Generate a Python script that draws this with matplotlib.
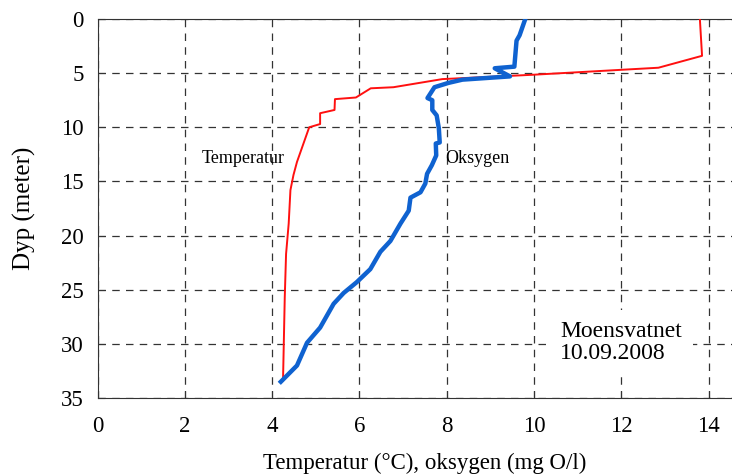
import matplotlib.pyplot as plt

# Temperature profile (depth in m, temp in deg C)
temp_depth = [0.0, 3.4, 4.5, 5.15, 5.55, 6.3, 6.4, 7.25, 7.4, 8.4, 8.7, 9.7, 10.0,
              13.2, 14.4, 15.8, 18.9, 21.7, 25.7, 33.4]
temp_val = [13.8, 13.85, 12.85, 9.97, 7.9, 6.78, 6.26, 5.92, 5.44, 5.43, 5.1, 5.1, 4.85,
            4.57, 4.49, 4.42, 4.38, 4.32, 4.29, 4.25]

# Oxygen profile (depth in m, mg O/l)
oxy_depth = [0.0, 1.5, 2.0, 4.4, 4.55, 5.3, 5.6, 5.9, 6.3, 7.3, 7.5, 8.4, 8.9, 10.1,
             11.4, 11.5, 12.6, 13.5, 14.3, 15.2, 16.0, 16.5, 17.7, 18.9, 20.5, 21.5,
             23.1, 24.3, 25.3, 26.3, 28.5, 29.9, 32.0, 33.5]
oxy_val = [9.8, 9.67, 9.6, 9.55, 9.1, 9.45, 8.36, 8.04, 7.72, 7.56, 7.67, 7.67, 7.77, 7.82,
           7.84, 7.75, 7.76, 7.66, 7.55, 7.51, 7.4, 7.17, 7.13, 6.94, 6.71, 6.48,
           6.25, 5.94, 5.64, 5.41, 5.1, 4.8, 4.57, 4.2]

x_ticks = [0, 2, 4, 6, 8, 10, 12, 14]
y_ticks = [0, 5, 10, 15, 20, 25, 30, 35]

plt.rcParams['font.family'] = ['Liberation Serif', 'DejaVu Serif']

fig = plt.figure(figsize=(7.32, 4.75), dpi=100)
ax = fig.add_axes([97.5 / 732, 1 - 398 / 475, (732 - 97.5) / 732, (398 - 19) / 475])

ax.plot(temp_val, temp_depth, color='#ff1010', lw=1.4, zorder=3)
ax.plot(oxy_val, oxy_depth, color='#0f62d0', lw=3.2, zorder=3)

ax.set_xlim(0, (732 - 97.5) / 43.65)
ax.set_ylim(35, 0)
ax.set_xticks(x_ticks)
ax.set_yticks(y_ticks)
ax.grid(True, color='#333333', linestyle=(0, (6, 5)), lw=0.9)

for s in ['left', 'top', 'bottom']:
    ax.spines[s].set_color('#333333')
ax.spines['right'].set_visible(False)
ax.tick_params(direction='in', length=5, color='#333333', labelsize=16.5)
ax.tick_params(axis='x', pad=13)
ax.tick_params(axis='y', pad=10)

ax.set_xlabel('Temperatur (°C), oksygen (mg O/l)', fontsize=16.5, labelpad=10)
ax.xaxis.set_label_coords(0.516, -0.145)
ax.set_ylabel('Dyp (meter)', fontsize=18, labelpad=18)

ax.text(2.39, 12.9, 'Temperatur', fontsize=13, va='center', ha='left')
ax.text(7.96, 12.9, 'Oksygen', fontsize=13, va='center', ha='left')
ax.text(10.6, 29.9, 'Moensvatnet\n10.09.2008', fontsize=17, va='center', ha='left',
        linespacing=1.05, bbox=dict(facecolor='white', edgecolor='none', pad=8), zorder=4)

fig.savefig('out.png', dpi=100)
